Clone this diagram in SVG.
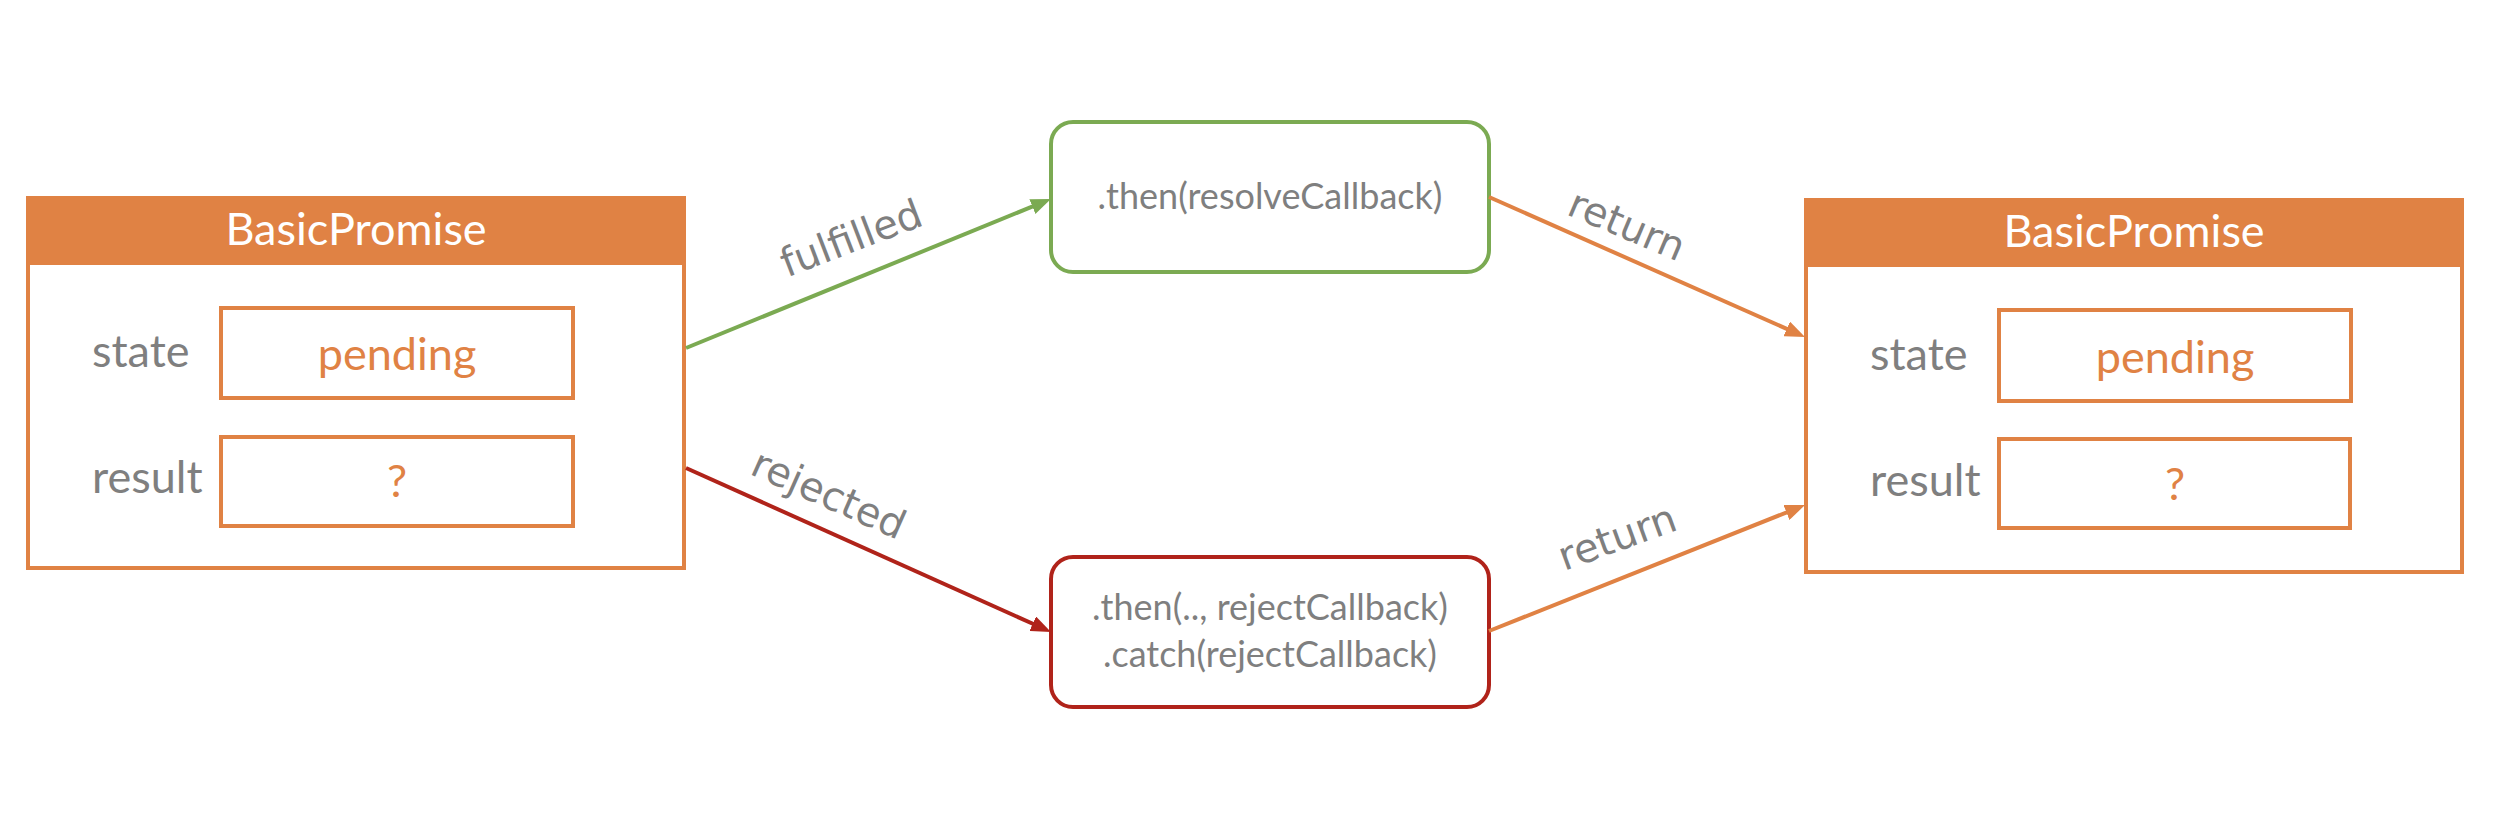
<svg xmlns="http://www.w3.org/2000/svg" width="2498" height="834" viewBox="0 0 2498 834">
<style>
.bg{fill:#FFFFFF}
.outer{fill:#FFFFFF;stroke:#E08244;stroke-width:4}
.hdr{fill:#E08244}
.field{fill:#FFFFFF;stroke:#E08244;stroke-width:4}
.hdrtxt{font-family:Lato,"Open Sans",sans-serif;font-size:45px;fill:#FFFFFF;text-anchor:middle}
.lbl{font-family:Lato,"Open Sans",sans-serif;font-size:45px;fill:#7F7F7F}
.val{font-family:Lato,"Open Sans",sans-serif;font-size:45px;fill:#E08244;text-anchor:middle}
.cb{font-family:Lato,"Open Sans",sans-serif;font-size:36px;fill:#7F7F7F;text-anchor:middle}
.edge{font-family:"DejaVu Sans",Verdana,sans-serif;font-size:40px;fill:#7F7F7F;text-anchor:middle;dominant-baseline:central}
.green{fill:#FFFFFF;stroke:#7BAA52;stroke-width:4}
.red{fill:#FFFFFF;stroke:#B0231A;stroke-width:4}
.lg{stroke:#7BAA52;stroke-width:4;fill:none}
.lr{stroke:#B0231A;stroke-width:4;fill:none}
.lo{stroke:#E08244;stroke-width:4;fill:none}
</style>
<defs>
<marker id="ag" markerUnits="userSpaceOnUse" markerWidth="20" markerHeight="16" refX="5" refY="8" orient="auto"><path d="M0,0 L20,8 L0,16 z" fill="#7BAA52"/></marker>
<marker id="ar" markerUnits="userSpaceOnUse" markerWidth="20" markerHeight="16" refX="5" refY="8" orient="auto"><path d="M0,0 L20,8 L0,16 z" fill="#B0231A"/></marker>
<marker id="ao" markerUnits="userSpaceOnUse" markerWidth="20" markerHeight="16" refX="5" refY="8" orient="auto"><path d="M0,0 L20,8 L0,16 z" fill="#E08244"/></marker>
</defs>
<rect class="bg" x="0" y="0" width="2498" height="834"/>

<g id="promise-left">
<rect class="outer" x="28" y="198" width="656" height="370"/>
<rect class="hdr" x="26" y="196" width="660" height="69"/>
<text class="hdrtxt" x="356" y="245">BasicPromise</text>
<text class="lbl" x="92" y="367">state</text>
<rect class="field" x="221" y="308" width="352" height="90"/>
<text class="val" x="397" y="370">pending</text>
<text class="lbl" x="92" y="493">result</text>
<rect class="field" x="221" y="437" width="352" height="89"/>
<text class="val" x="397" y="497">?</text>
</g>

<g id="promise-right">
<rect class="outer" x="1806" y="200" width="656" height="372"/>
<rect class="hdr" x="1804" y="198" width="660" height="69"/>
<text class="hdrtxt" x="2134" y="247">BasicPromise</text>
<text class="lbl" x="1870" y="370">state</text>
<rect class="field" x="1999" y="310" width="352" height="91"/>
<text class="val" x="2175" y="373">pending</text>
<text class="lbl" x="1870" y="496">result</text>
<rect class="field" x="1999" y="439" width="351" height="89"/>
<text class="val" x="2175" y="500">?</text>
</g>

<g id="then-resolve">
<rect class="green" x="1051" y="122" width="438" height="150" rx="22" ry="22"/>
<text class="cb" x="1270" y="209">.then(resolveCallback)</text>
</g>

<g id="then-reject">
<rect class="red" x="1051" y="557" width="438" height="150" rx="22" ry="22"/>
<text class="cb" x="1270" y="620">.then(.., rejectCallback)</text>
<text class="cb" x="1270" y="667">.catch(rejectCallback)</text>
</g>

<g id="connectors">
<line class="lg" x1="686" y1="348" x2="1037" y2="204.7" marker-end="url(#ag)"/>
<line class="lr" x1="686" y1="468" x2="1037.3" y2="625.8" marker-end="url(#ar)"/>
<line class="lo" x1="1489" y1="197" x2="1791.3" y2="330.9" marker-end="url(#ao)"/>
<line class="lo" x1="1489" y1="631" x2="1791.1" y2="510.6" marker-end="url(#ao)"/>
<text class="edge" transform="translate(851,238) rotate(-21)">fulfilled</text>
<text class="edge" transform="translate(829,494) rotate(24)">rejected</text>
<text class="edge" transform="translate(1627,225) rotate(23)">return</text>
<text class="edge" transform="translate(1617,537) rotate(-20)">return</text>
</g>
</svg>
